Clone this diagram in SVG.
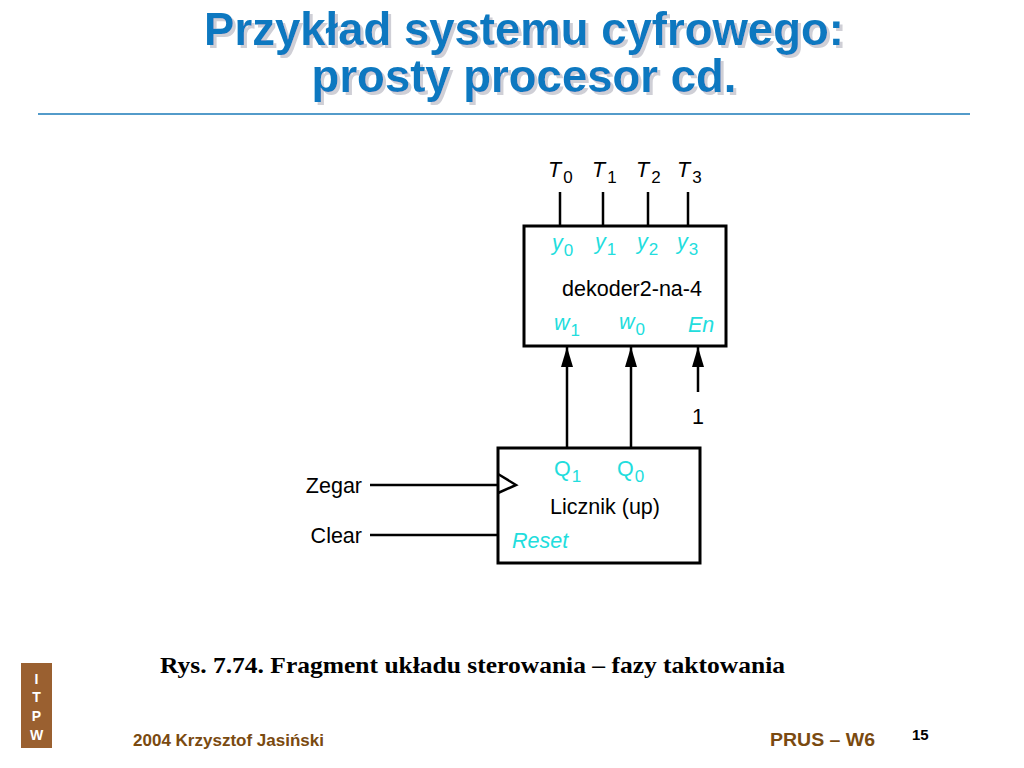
<svg xmlns="http://www.w3.org/2000/svg" width="1024" height="768" viewBox="0 0 1024 768">
<defs>
<style>
.title{font-family:"Liberation Sans",Arial,sans-serif;font-weight:bold;font-size:45.5px;text-anchor:middle}
.lbl{font-family:"Liberation Sans",Arial,sans-serif;font-size:21.5px;fill:#000}
.cy{font-family:"Liberation Sans",Arial,sans-serif;font-size:21.5px;fill:#22dddd}
.it{font-style:italic}
.sub{font-size:17px}
.box{fill:#fff;stroke:#000;stroke-width:3}
.wire{stroke:#000;stroke-width:2.5;fill:none}
.foot{font-family:"Liberation Sans",Arial,sans-serif;font-weight:bold;fill:#7a4a10}
</style>
<filter id="shadow" x="-5%" y="-10%" width="110%" height="130%">
<feOffset in="SourceAlpha" dx="3" dy="3" result="off"/>
<feFlood flood-color="#cfcfd6"/>
<feComposite in2="off" operator="in" result="sh"/>
<feMerge><feMergeNode in="sh"/><feMergeNode in="SourceGraphic"/></feMerge>
</filter>
<marker id="arr" viewBox="0 0 20 12" refX="20" refY="6" markerWidth="20" markerHeight="12" markerUnits="userSpaceOnUse" orient="auto">
<path d="M0,0 L20,6 L0,12 Z" fill="#000"/>
</marker>
</defs>
<rect width="1024" height="768" fill="#fff"/>
<g id="title">
<text class="title" fill="#0a78c0" filter="url(#shadow)"><tspan x="524" y="45">Przykład systemu cyfrowego:</tspan><tspan x="524" y="92">prosty procesor cd.</tspan></text>
<line x1="38" y1="114" x2="970" y2="114" stroke="#1a7ab8" stroke-width="1.5"/>
</g>
<g id="connectors">
<line class="wire" x1="560" y1="192" x2="560" y2="226"/>
<line class="wire" x1="603" y1="192" x2="603" y2="226"/>
<line class="wire" x1="648" y1="192" x2="648" y2="226"/>
<line class="wire" x1="688" y1="192" x2="688" y2="226"/>
<line class="wire" x1="567" y1="448" x2="567" y2="347" marker-end="url(#arr)"/>
<line class="wire" x1="631" y1="448" x2="631" y2="347" marker-end="url(#arr)"/>
<line class="wire" x1="698" y1="392" x2="698" y2="347" marker-end="url(#arr)"/>
<line class="wire" x1="370" y1="485" x2="498" y2="485"/>
<line class="wire" x1="370" y1="535" x2="498" y2="535"/>
</g>
<g id="outputs">
<text class="lbl it" x="548" y="177">T<tspan class="sub" font-style="normal" dx="2" dy="6">0</tspan></text>
<text class="lbl it" x="592" y="177">T<tspan class="sub" font-style="normal" dx="2" dy="6">1</tspan></text>
<text class="lbl it" x="636" y="177">T<tspan class="sub" font-style="normal" dx="2" dy="6">2</tspan></text>
<text class="lbl it" x="677" y="177">T<tspan class="sub" font-style="normal" dx="2" dy="6">3</tspan></text>
</g>
<g id="decoder">
<rect class="box" x="524" y="226" width="202" height="120"/>
<text class="cy it" x="552" y="250">y<tspan class="sub" font-style="normal" dx="1" dy="6">0</tspan></text>
<text class="cy it" x="595" y="249">y<tspan class="sub" font-style="normal" dx="1" dy="6">1</tspan></text>
<text class="cy it" x="637" y="249">y<tspan class="sub" font-style="normal" dx="1" dy="6">2</tspan></text>
<text class="cy it" x="677" y="249">y<tspan class="sub" font-style="normal" dx="1" dy="6">3</tspan></text>
<text class="lbl" x="632" y="296" text-anchor="middle">dekoder2-na-4</text>
<text class="cy it" x="554" y="330">w<tspan class="sub" font-style="normal" dx="1" dy="6">1</tspan></text>
<text class="cy it" x="619" y="329">w<tspan class="sub" font-style="normal" dx="1" dy="6">0</tspan></text>
<text class="cy it" x="688" y="332">En</text>
</g>
<g id="const1">
<text class="lbl" x="698" y="424" text-anchor="middle">1</text>
</g>
<g id="counter">
<rect class="box" x="498" y="448" width="202" height="115"/>
<polyline class="wire" points="498,474 516,485 498,493"/>
<text class="cy" x="554" y="476">Q<tspan class="sub" dx="1" dy="6">1</tspan></text>
<text class="cy" x="617" y="476">Q<tspan class="sub" dx="1" dy="6">0</tspan></text>
<text class="lbl" x="605" y="514" text-anchor="middle">Licznik (up)</text>
<text class="cy it" x="512" y="548">Reset</text>
</g>
<g id="inputs">
<text class="lbl" x="362" y="493" text-anchor="end">Zegar</text>
<text class="lbl" x="362" y="543" text-anchor="end">Clear</text>
</g>
<g id="caption">
<text x="160" y="673" font-family="'Liberation Serif','Times New Roman',serif" font-weight="bold" font-size="24" fill="#000" textLength="625" lengthAdjust="spacingAndGlyphs">Rys. 7.74. Fragment układu sterowania – fazy taktowania</text>
</g>
<g id="footer">
<rect x="21" y="663" width="31" height="85" fill="#9a6030"/>
<text x="36.5" y="684" font-family="'Liberation Sans',Arial,sans-serif" font-weight="bold" font-size="14" fill="#fff" text-anchor="middle">I</text>
<text x="36.5" y="702" font-family="'Liberation Sans',Arial,sans-serif" font-weight="bold" font-size="14" fill="#fff" text-anchor="middle">T</text>
<text x="36.5" y="721" font-family="'Liberation Sans',Arial,sans-serif" font-weight="bold" font-size="14" fill="#fff" text-anchor="middle">P</text>
<text x="36.5" y="740" font-family="'Liberation Sans',Arial,sans-serif" font-weight="bold" font-size="14" fill="#fff" text-anchor="middle">W</text>
<text class="foot" x="133" y="746" font-size="17" textLength="191" lengthAdjust="spacingAndGlyphs">2004 Krzysztof Jasiński</text>
<text class="foot" x="770" y="746" font-size="19" textLength="105" lengthAdjust="spacingAndGlyphs">PRUS – W6</text>
<text x="912" y="740" font-family="'Liberation Sans',Arial,sans-serif" font-weight="bold" font-size="15" fill="#000">15</text>
</g>
</svg>
